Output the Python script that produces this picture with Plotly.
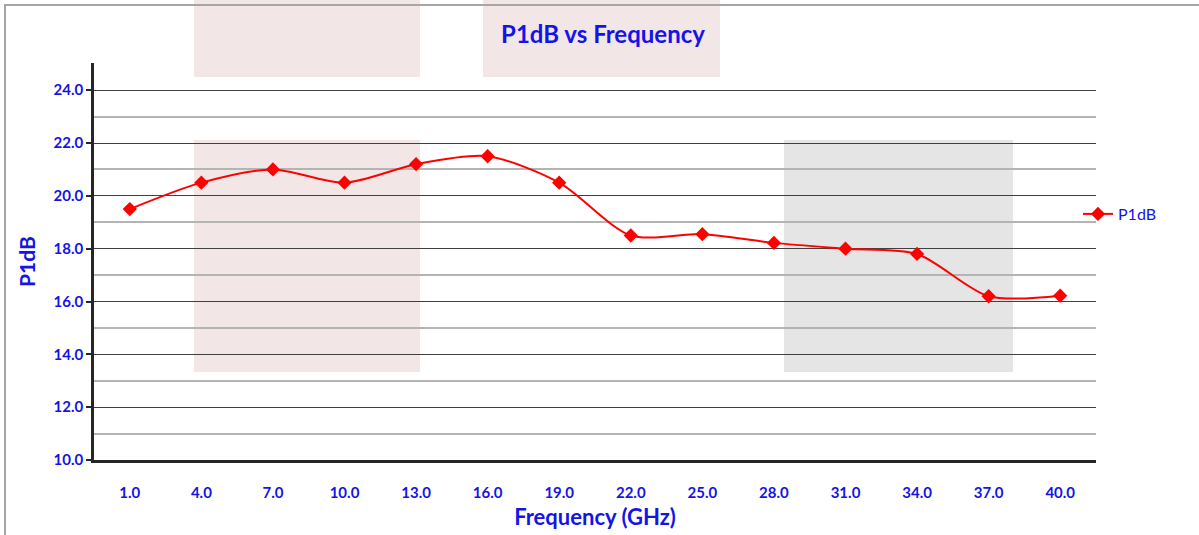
import plotly.graph_objects as go

freq_labels = ["1.0", "4.0", "7.0", "10.0", "13.0", "16.0", "19.0",
               "22.0", "25.0", "28.0", "31.0", "34.0", "37.0", "40.0"]
p1db = [19.5, 20.5, 21.0, 20.5, 21.2, 21.5, 20.5,
        18.5, 18.55, 18.22, 18.0, 17.8, 16.2, 16.22]

BLUE = "#1414e6"
FONT = "Lato"

# plot area in screenshot pixels
L, R, T, B = 94, 1096, 63, 460
W, H = 1199, 535


def px(x):
    return (x - L) / (R - L)


def py(y):
    return (B - y) / (B - T)


fig = go.Figure()
fig.add_trace(go.Scatter(
    x=freq_labels, y=p1db, name="P1dB", mode="lines+markers",
    line=dict(color="#ff0000", width=2, shape="spline", smoothing=0.8),
    marker=dict(symbol="diamond", size=11, color="#ff0000"),
))

shapes = []
# decorative background panels
for (x0, y0, x1, y1, c) in [
    (194, -10, 420, 77, "#f3e6e6"),
    (194, 140, 420, 372, "#f3e6e6"),
    (483, -10, 720, 77, "#f3e6e6"),
    (784, 140, 1013, 372, "#e5e5e5"),
]:
    shapes.append(dict(type="rect", xref="paper", yref="paper", layer="below",
                       x0=px(x0), x1=px(x1), y0=py(y1), y1=py(y0),
                       fillcolor=c, line=dict(width=0)))
# legend box covering gridlines
shapes.append(dict(type="rect", xref="paper", yref="paper", layer="between",
                   x0=px(1038), x1=px(1100), y0=py(240), y1=py(203),
                   fillcolor="white", line=dict(width=0)))
# chart border
shapes.append(dict(type="rect", xref="paper", yref="paper", layer="above",
                   x0=px(5), x1=px(1250), y0=py(600), y1=py(5),
                   fillcolor="rgba(0,0,0,0)", line=dict(color="#a6a6a6", width=2)))

fig.update_layout(
    width=W, height=H,
    margin=dict(l=L, r=W - R, t=T, b=H - B, autoexpand=False),
    paper_bgcolor="white", plot_bgcolor="white",
    font=dict(family=FONT, color=BLUE),
    title=dict(text="<b>P1dB vs Frequency</b>", x=603 / W,
               xanchor="center", y=1 - 35 / H, yanchor="middle",
               font=dict(size=24, color=BLUE, family=FONT)),
    showlegend=True,
    legend=dict(x=px(1078), xanchor="left", y=py(214), yanchor="middle",
                font=dict(size=16, color=BLUE, family=FONT),
                bgcolor="rgba(0,0,0,0)", itemwidth=30),
    shapes=shapes,
)

fig.update_xaxes(
    type="category", range=[-0.5, 13.5],
    showline=True, linecolor="#262626", linewidth=2.5,
    showgrid=False, zeroline=False,
    ticks="outside", ticklen=17, tickcolor="rgba(0,0,0,0)",
    tickfont=dict(size=15, color=BLUE, family=FONT),
    title=dict(text="<b>Frequency (GHz)</b>", standoff=10,
               font=dict(size=22, color=BLUE, family=FONT)),
)
fig.update_yaxes(
    range=[10, 25.03], dtick=2, tick0=10, tickformat=".1f",
    showline=True, linecolor="#262626", linewidth=2.5,
    showgrid=True, gridcolor="#404040", gridwidth=1.3,
    zeroline=False,
    ticks="outside", ticklen=5, tickcolor="#262626", tickwidth=1.5,
    tickfont=dict(size=15, color=BLUE, family=FONT),
    minor=dict(tick0=11, dtick=2, showgrid=True, gridcolor="#b4b4b4",
               gridwidth=1.5, ticks=""),
    title=dict(text="<b>P1dB</b>", standoff=13,
               font=dict(size=21, color=BLUE, family=FONT)),
)

# make tick labels bold
fig.update_xaxes(ticktext=["<b>%s</b>" % t for t in freq_labels],
                 tickvals=freq_labels)
fig.update_yaxes(tickvals=list(range(10, 25, 2)),
                 ticktext=["<b>%.1f</b>" % v for v in range(10, 25, 2)])

fig.write_html("out.html",
               config={"displayModeBar": False},
               post_script="document.body.style.margin='0';"
                           "document.body.style.overflow='hidden';")
